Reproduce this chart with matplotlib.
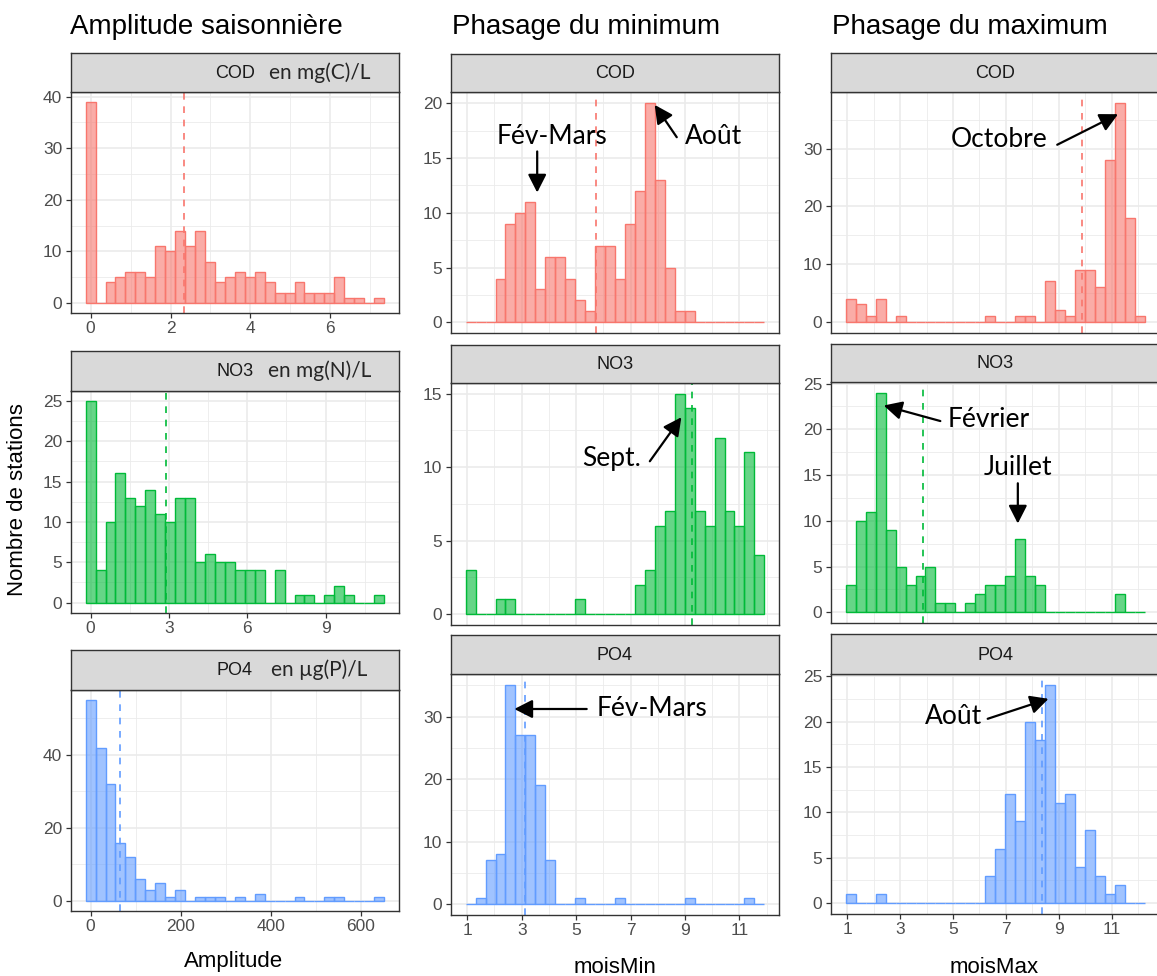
import matplotlib.pyplot as plt
import numpy as np
from matplotlib.colors import to_rgba
from matplotlib.ticker import MultipleLocator, FixedLocator

W, H = 1157, 976

# --- data: number of stations per bin (30 bins each) ---
amp_cod = [39, 0, 4, 5, 6, 6, 5, 11, 10, 14, 11, 14, 8, 4, 5, 6, 5, 6, 4, 2,
           2, 4, 2, 2, 2, 5, 1, 1, 0, 1]
amp_no3 = [25, 4, 10, 16, 13, 12, 14, 11, 10, 13, 13, 5, 6, 5, 5, 4, 4, 4, 0, 4,
           0, 1, 1, 0, 1, 2, 1, 0, 0, 1]
amp_po4 = [55, 42, 32, 16, 12, 6, 3, 5, 1, 3, 0, 1, 1, 1, 0, 1, 0, 2, 0, 0,
           0, 1, 0, 0, 1, 1, 0, 0, 0, 1]
amp_binwidth = [0.249, 0.381, 22.1]
amp_mean = [2.35, 2.89, 66]

min_cod = [0, 0, 0, 4, 9, 10, 11, 3, 6, 6, 4, 2, 1, 7, 7, 4, 9, 12, 20, 13,
           5, 1, 1, 0, 0, 0, 0, 0, 0, 0]
min_no3 = [3, 0, 0, 1, 1, 0, 0, 0, 0, 0, 0, 1, 0, 0, 0, 0, 0, 2, 3, 6,
           7, 15, 14, 7, 6, 12, 7, 6, 11, 4]
min_po4 = [0, 1, 7, 8, 35, 27, 27, 19, 7, 0, 0, 1, 0, 0, 0, 1, 0, 0, 0, 0,
           0, 0, 1, 0, 0, 0, 0, 0, 1, 0]
min_range = (0.94, 11.92)
min_mean = [5.73, 9.25, 3.13]

max_cod = [4, 3, 1, 4, 0, 1, 0, 0, 0, 0, 0, 0, 0, 0, 1, 0, 0, 1, 1, 0,
           7, 2, 1, 9, 9, 6, 28, 38, 18, 1]
max_no3 = [3, 10, 11, 24, 9, 5, 3, 4, 5, 1, 1, 0, 1, 2, 3, 3, 4, 8, 4, 3,
           0, 0, 0, 0, 0, 0, 0, 2, 0, 0]
max_po4 = [1, 0, 0, 1, 0, 0, 0, 0, 0, 0, 0, 0, 0, 0, 3, 6, 12, 9, 20, 18,
           24, 11, 12, 4, 8, 3, 1, 2, 0, 0]
max_range = (0.94, 12.26)
max_mean = [9.87, 3.87, 8.38]

params = ["COD", "NO3", "PO4"]
units = ["en mg(C)/L", "en mg(N)/L", "en µg(P)/L"]
colors = ["#F8766D", "#00BA38", "#619CFF"]

amp_major = [2, 3, 200]
amp_ymajor = [10, 5, 20]
min_ymajor = [5, 5, 10]
max_ymajor = [10, 5, 5]

GGFONT = "Liberation Sans"
NOTEFONT = "Lato"

fig = plt.figure(figsize=(W / 100, H / 100), dpi=100)


def px_axes(l, t, r, b):
    return fig.add_axes([l / W, 1 - b / H, (r - l) / W, (b - t) / H])


def style_panel(ax):
    ax.set_facecolor("white")
    for s in ax.spines.values():
        s.set_color("#333333")
        s.set_linewidth(1.0)
        s.set_zorder(5)
    ax.grid(which="major", color="#EBEBEB", lw=1.2, zorder=0)
    ax.grid(which="minor", color="#EBEBEB", lw=0.6, zorder=0)
    ax.set_axisbelow(True)
    ax.tick_params(which="major", length=3.5, width=0.9, color="#333333",
                   labelsize=12.5, labelcolor="#4D4D4D", pad=2.5)
    ax.tick_params(which="minor", length=0)
    for lab in ax.get_xticklabels() + ax.get_yticklabels():
        lab.set_fontfamily(GGFONT)


def strip(l, t, r, b, label, unit=None):
    sax = px_axes(l, t, r, b)
    sax.set_facecolor("#D9D9D9")
    sax.set_xticks([])
    sax.set_yticks([])
    for s in sax.spines.values():
        s.set_color("#333333")
        s.set_linewidth(1.0)
    sax.text(0.5, 0.48, label, ha="center", va="center", fontsize=13,
             color="#1A1A1A", family=GGFONT, transform=sax.transAxes)
    if unit:
        sax.text(0.758, 0.5, unit, ha="center", va="center", fontsize=15,
                 color="#262626", family=NOTEFONT, transform=sax.transAxes)


def hist(ax, counts, edges, color, mean, ymajor):
    counts = np.asarray(counts)
    centers = (edges[:-1] + edges[1:]) / 2
    bw = edges[1] - edges[0]
    ax.bar(centers, counts, width=bw, facecolor=to_rgba(color, 0.6),
           edgecolor=color, linewidth=1.0, zorder=2)
    pad = 0.05 * (edges[-1] - edges[0])
    ax.set_xlim(edges[0] - pad, edges[-1] + pad)
    ymax = counts.max()
    ax.set_ylim(-0.05 * ymax, 1.05 * ymax)
    ax.axvline(mean, color=color, ls=(0, (4, 4)), lw=1.2, zorder=3)
    ax.yaxis.set_major_locator(MultipleLocator(ymajor))
    ax.yaxis.set_minor_locator(MultipleLocator(ymajor / 2))


# layout (pixels): column left/right, rows (strip top, plot top, plot bottom)
col_lr = [(70.7, 399.0), (450.7, 779.3), (830.7, 1160.0)]
rows = [
    [(53.3, 91.7, 313.0), (351.0, 390.7, 612.7), (650.0, 690.0, 911.0)],
    [(54.0, 92.3, 333.3), (345.0, 382.7, 625.0), (635.0, 674.3, 915.0)],
    [(53.3, 91.7, 332.7), (344.0, 381.7, 623.3), (634.3, 674.3, 914.0)],
]

amp_data = [amp_cod, amp_no3, amp_po4]
min_data = [min_cod, min_no3, min_po4]
max_data = [max_cod, max_no3, max_po4]

axes = {}
for c in range(3):
    l, r = col_lr[c]
    for i in range(3):
        st, pt, pb = rows[c][i]
        ax = px_axes(l, pt, r, pb)
        if c == 0:
            n = len(amp_data[i])
            bw = amp_binwidth[i]
            edges = (np.arange(n + 1) - 0.5) * bw
            hist(ax, amp_data[i], edges, colors[i], amp_mean[i], amp_ymajor[i])
            ax.xaxis.set_major_locator(MultipleLocator(amp_major[i]))
            ax.xaxis.set_minor_locator(MultipleLocator(amp_major[i] / 2))
            strip(l, st, r, pt, params[i], units[i])
        else:
            data = min_data if c == 1 else max_data
            rng = min_range if c == 1 else max_range
            means = min_mean if c == 1 else max_mean
            ymaj = min_ymajor if c == 1 else max_ymajor
            edges = np.linspace(rng[0], rng[1], len(data[i]) + 1)
            hist(ax, data[i], edges, colors[i], means[i], ymaj[i])
            ax.xaxis.set_major_locator(FixedLocator([1, 3, 5, 7, 9, 11]))
            ax.xaxis.set_minor_locator(FixedLocator([2, 4, 6, 8, 10, 12]))
            if i < 2:
                ax.tick_params(axis="x", which="both", bottom=False,
                               labelbottom=False)
            strip(l, st, r, pt, params[i])
        style_panel(ax)
        axes[(c, i)] = ax

# column titles
for x, t in [(70, "Amplitude saisonnière"), (451.5, "Phasage du minimum"),
             (831.5, "Phasage du maximum")]:
    fig.text(x / W, 1 - 34 / H, t, fontsize=20, family=GGFONT, ha="left",
             va="baseline", color="black")

# axis titles
fig.text(18 / W, 1 - 500 / H, "Nombre de stations", rotation=90, fontsize=16,
         family=GGFONT, ha="center", va="center")
fig.text(234 / W, 1 - 967 / H, "Amplitude", fontsize=16, family=GGFONT,
         ha="center", va="baseline")
fig.text(615 / W, 1 - 973 / H, "moisMin", fontsize=16, family=GGFONT,
         ha="center", va="baseline")
fig.text(994 / W, 1 - 973 / H, "moisMax", fontsize=16, family=GGFONT,
         ha="center", va="baseline")

# annotations (label, label pos, arrow tail, arrow tip) in data coords
notes = [
    ((1, 0), "Fév-Mars", (4.12, 17.0), (3.57, 15.6), (3.57, 11.85)),
    ((1, 0), "Août", (10.05, 17.0), (8.70, 16.9), (7.89, 19.85)),
    ((2, 0), "Octobre", (6.75, 31.6), (8.94, 30.7), (11.24, 36.0)),
    ((1, 1), "Sept.", (6.31, 10.6), (7.71, 10.4), (8.87, 13.4)),
    ((2, 1), "Février", (6.33, 21.1), (4.52, 20.9), (2.38, 22.6)),
    ((2, 1), "Juillet", (7.46, 15.8), (7.45, 14.1), (7.45, 9.7)),
    ((1, 2), "Fév-Mars", (7.78, 31.2), (5.39, 31.2), (2.73, 31.2)),
    ((2, 2), "Août", (5.01, 20.6), (6.31, 20.3), (8.61, 22.5)),
]
for key, label, tpos, tail, tip in notes:
    ax = axes[key]
    ax.text(tpos[0], tpos[1], label, fontsize=19, family=NOTEFONT,
            ha="center", va="center", color="black", zorder=6)
    ax.annotate("", xy=tip, xytext=tail,
                arrowprops=dict(arrowstyle="-|>,head_length=0.55,head_width=0.28",
                                color="black", lw=1.6, mutation_scale=20,
                                shrinkA=0, shrinkB=0), zorder=6)

fig.savefig("out.png", dpi=100, facecolor="white")
